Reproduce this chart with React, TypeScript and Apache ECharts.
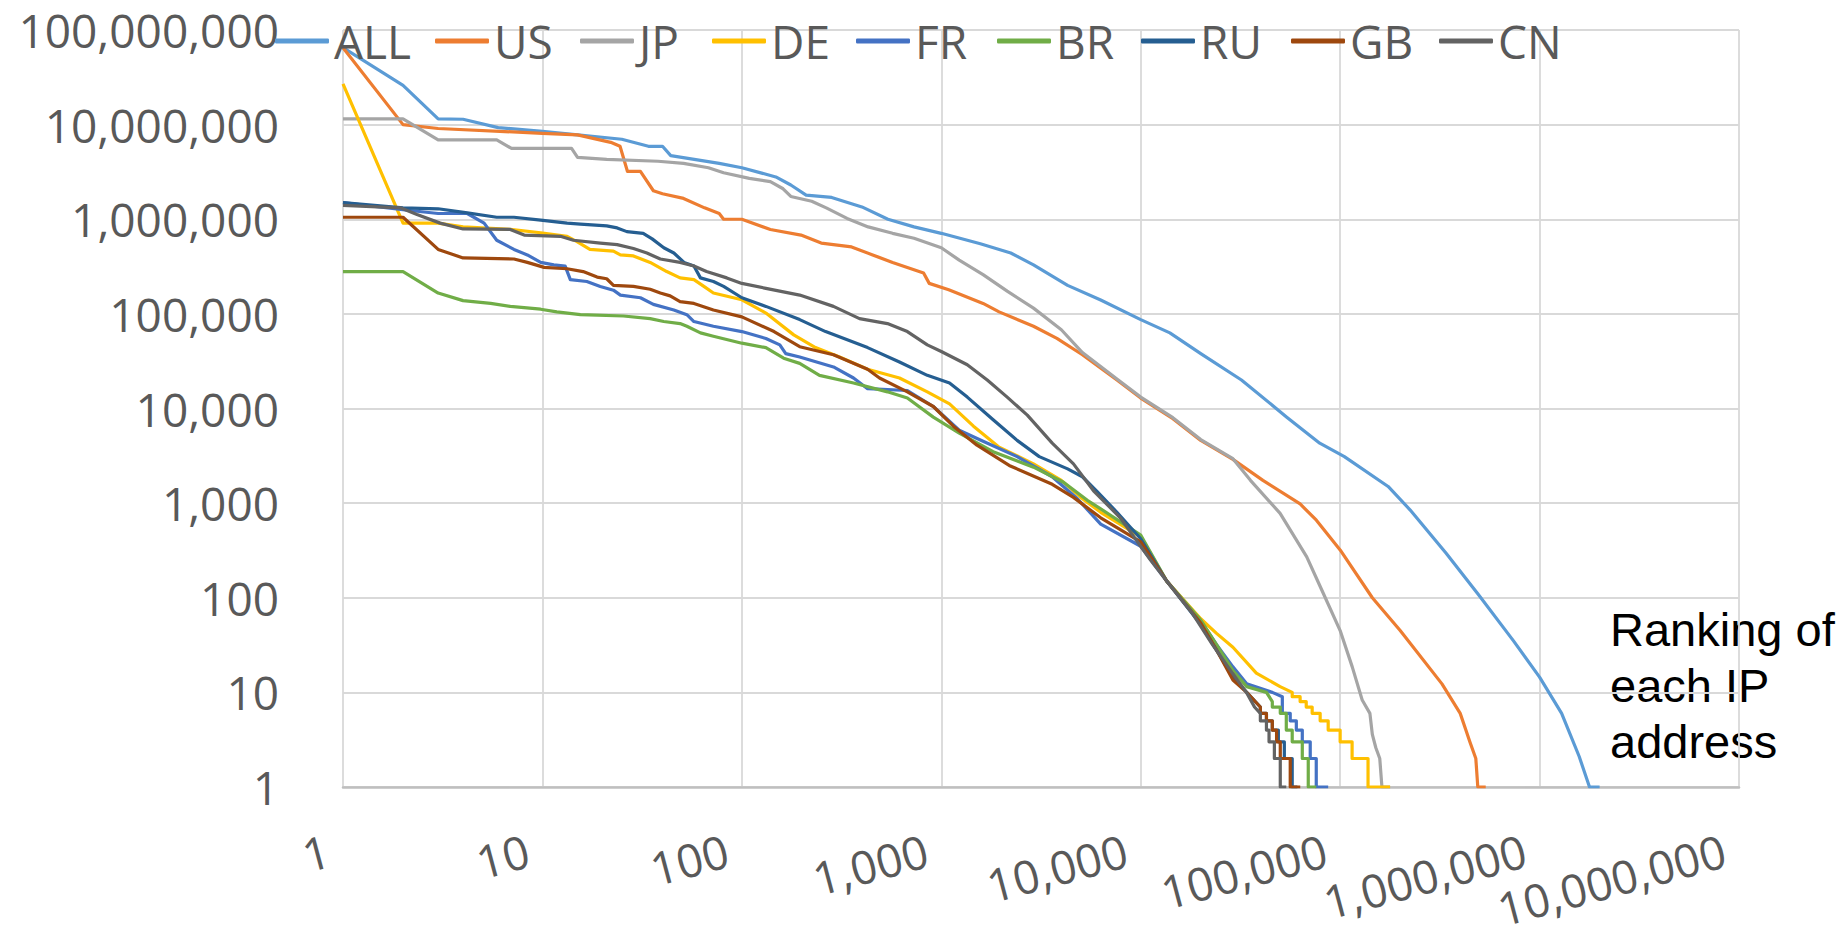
import React, { useEffect, useRef } from "react";
import * as echarts from "echarts";

const SERIES_NAMES = ["ALL", "US", "JP", "DE", "FR", "BR", "RU", "GB", "CN"];
const SERIES_COLORS = ["#5B9BD5", "#ED7D31", "#A5A5A5", "#FFC000", "#4472C4", "#70AD47", "#255E91", "#9E480E", "#636363"];
const LEGEND_LEFT = [275, 435, 580, 712, 856, 997, 1141, 1291, 1439];

const X_TICKS = [1, 10, 100, 1000, 10000, 100000, 1000000, 10000000];
const Y_TICKS = [1, 10, 100, 1000, 10000, 100000, 1000000, 10000000, 100000000];
const AXIS_TITLE = "Ranking of\neach IP\naddress";

const ALL: [number, number][] = [[1,65000000],[2,26000000],[3,11500000],[4,11400000],[6,9300000],[10,8500000],[15,7800000],[25,7000000],[34,5900000],[40,5900000],[44,4700000],[77,3900000],[100,3500000],[148,2800000],[176,2300000],[210,1800000],[282,1700000],[400,1350000],[540,1000000],[730,830000],[1000,710000],[1570,550000],[2230,440000],[2900,330000],[4300,200000],[6300,140000],[10000,87000],[14000,63000],[20000,38000],[32000,20000],[54000,8100],[79000,4300],[105000,3100],[174000,1500],[224000,850],[340000,295],[490000,110],[740000,35],[1000000,14.5],[1290000,6],[1580000,2.1],[1780000,1],[2000000,1]];

const US: [number, number][] = [[1,65000000],[2,10000000],[3,9100000],[10,8100000],[15,7800000],[22,6500000],[24.5,5900000],[26.7,3200000],[31,3200000],[36,2000000],[40,1860000],[51,1660000],[65,1320000],[77,1150000],[81,1000000],[100,1000000],[139,780000],[198,680000],[250,560000],[355,510000],[453,420000],[570,350000],[815,270000],[870,210000],[1090,180000],[1620,129000],[1950,105000],[2900,74000],[3800,55000],[5100,37000],[7600,20000],[10000,12900],[14500,7800],[20000,4600],[29000,2900],[41000,1740],[63000,980],[76000,660],[100000,320],[145000,100],[200000,45],[324000,12.3],[400000,6],[427000,4],[447000,3],[479000,2],[490000,1],[537000,1]];

const JP: [number, number][] = [[1,11500000],[2,11500000],[3,6900000],[5.9,6900000],[7,5600000],[14,5600000],[15,4500000],[21,4300000],[38,4100000],[51,3900000],[68,3500000],[81,3100000],[109,2700000],[139,2500000],[161,2100000],[176,1740000],[224,1550000],[265,1320000],[337,1020000],[430,830000],[570,710000],[730,630000],[1000,500000],[1230,370000],[1620,260000],[2140,174000],[2900,115000],[4000,68000],[5100,39000],[7600,20500],[10000,13200],[14500,8000],[20000,4700],[29000,2950],[35500,1740],[50000,780],[68000,270],[81000,120],[100000,45],[115000,18.6],[129000,8.3],[141000,6],[145000,3.6],[151000,2.6],[158000,2],[162000,1],[178000,1]];

const DE: [number, number][] = [[1,27000000],[2,910000],[3,910000],[4,830000],[6.9,780000],[9.8,720000],[13.3,660000],[14.9,580000],[17.3,480000],[22.7,460000],[24.6,420000],[28.6,410000],[34.7,350000],[42,280000],[49,240000],[57.5,230000],[64.5,195000],[72,166000],[100,141000],[132,102000],[182,60000],[234,44000],[309,35000],[427,26000],[617,21000],[851,15000],[1100,11200],[1450,6500],[1950,3900],[2900,2600],[4000,1740],[5000,1150],[6300,800],[10000,440],[13500,150],[20000,60],[24000,42],[29000,30],[38000,16],[50000,11.5],[57500,10],[57500,9],[63000,9],[63000,8],[67600,8],[67600,7],[72400,7],[72400,6],[79400,6],[79400,5],[87100,5],[87100,4],[100000,4],[100000,3],[114800,3],[114800,2],[138000,2],[138000,1],[178000,1]];

const FR: [number, number][] = [[1,1500000],[2,1260000],[3,1150000],[4.2,1150000],[5.1,910000],[5.9,600000],[7.2,480000],[8.4,420000],[9.8,350000],[11.4,330000],[13,320000],[13.8,230000],[16.7,220000],[19.5,195000],[22.7,178000],[24.6,158000],[31,148000],[36,126000],[45.6,110000],[53,98000],[57.5,83000],[72,74000],[100,65000],[132,55000],[155,47000],[166,38000],[195,35000],[288,27500],[363,21000],[427,16200],[676,15500],[912,10500],[1230,5900],[1620,4500],[2400,3100],[3600,1900],[4800,1120],[6300,600],[10000,350],[13500,150],[20000,57],[24000,32],[29000,18.6],[34000,12.3],[45700,10],[51300,9],[51300,6],[56200,6],[56200,5],[60300,5],[60300,4],[64600,4],[64600,3],[70800,3],[70800,2],[75900,2],[75900,1],[87100,1]];

const BR: [number, number][] = [[1,280000],[2,280000],[3,166000],[4,138000],[5.5,129000],[6.9,120000],[9.8,112000],[11.8,105000],[15.5,98000],[25.5,95000],[34.7,89000],[40.6,83000],[49,79000],[53,74000],[62,63000],[72,58000],[100,49000],[132,44000],[162,34000],[195,30000],[245,22400],[363,18600],[537,15000],[676,12900],[912,8100],[1230,5500],[1820,3500],[2900,2400],[4100,1660],[5400,1070],[6300,870],[10000,460],[13500,150],[20000,58],[24000,32],[29000,17],[34000,11.5],[42700,10],[45700,8],[45700,7],[50100,7],[50100,6],[53700,6],[53700,4],[57500,4],[57500,3],[64600,3],[64600,2],[69200,2],[69200,1],[75900,1]];

const RU: [number, number][] = [[1,1500000],[2,1320000],[3,1290000],[4.2,1170000],[5.9,1050000],[7.2,1050000],[9.8,980000],[13.3,910000],[15.5,890000],[21,850000],[23.7,810000],[26.5,740000],[32,710000],[35.5,620000],[40.6,500000],[45.6,440000],[51.3,350000],[57.5,320000],[62,240000],[72,220000],[81,195000],[100,148000],[132,120000],[195,87000],[263,65000],[427,44000],[617,31000],[851,22400],[1100,18600],[1350,13200],[1820,7600],[2400,4600],[3100,3100],[4300,2300],[5100,1900],[6000,1350],[7600,800],[10000,420],[13500,150],[20000,52],[24000,28],[29000,14.5],[34000,10],[39800,7],[39800,6],[42700,6],[42700,5],[45700,5],[45700,4],[49000,4],[49000,3],[52500,3],[52500,2],[57500,2],[57500,1],[61000,1]];

const GB: [number, number][] = [[1,1050000],[2,1050000],[3,480000],[4,390000],[7.2,380000],[8.4,350000],[10.2,310000],[13.3,300000],[16,280000],[18.8,245000],[21,235000],[22.7,200000],[28.6,195000],[34.7,182000],[39,166000],[43.7,155000],[49,135000],[57.5,129000],[72,110000],[100,93000],[145,65000],[195,45000],[288,37000],[427,26000],[490,21000],[676,15000],[912,10500],[1150,6500],[1510,4100],[2190,2500],[3600,1580],[4600,1150],[6300,700],[10000,390],[13500,150],[20000,54],[24000,28],[29000,13.5],[34000,10],[39800,7],[39800,6],[42700,6],[42700,5],[45700,5],[45700,4],[48000,4],[48000,3],[50100,3],[50100,2],[56200,2],[56200,1],[63100,1]];

const CN: [number, number][] = [[1,1400000],[1.94,1320000],[2.35,1120000],[3.07,910000],[4,790000],[6.9,780000],[8.1,680000],[12.3,660000],[14.3,600000],[19.5,560000],[23.7,540000],[28.6,490000],[33.4,440000],[39,380000],[49,350000],[57.5,320000],[66.5,280000],[84,240000],[100,210000],[132,186000],[195,158000],[288,120000],[389,89000],[537,79000],[676,65000],[851,47000],[1000,40000],[1350,29000],[1700,20000],[2140,13200],[2700,8500],[3600,4300],[4600,2600],[5800,1350],[7900,700],[11200,250],[13500,150],[18200,68],[22900,32],[28800,16],[33900,10],[37200,7],[39800,6],[39800,5],[42700,5],[42700,4],[44000,4],[44000,3],[46800,3],[46800,2],[50100,2],[50100,1],[53700,1]];

const SERIES_DATA = [ALL, US, JP, DE, FR, BR, RU, GB, CN];

const FONT = "'Open Sans', 'Noto Sans', sans-serif";
const fmt = (v: number) => Math.round(v).toLocaleString("en-US");

export default function App() {
  const ref = useRef<HTMLDivElement>(null);
  useEffect(() => {
    if (!ref.current) return;
    const chart = echarts.init(ref.current, null, { renderer: "svg" });
    const option: any = {
      animation: false,
      backgroundColor: "#ffffff",
      grid: { left: 343, right: 108, top: 30, bottom: 146, containLabel: false, outerBoundsMode: "none" },
      legend: SERIES_NAMES.map((name, i) => ({
        data: [name],
        left: LEGEND_LEFT[i],
        top: 18,
        padding: 0,
        icon: "roundRect",
        itemWidth: 54,
        itemHeight: 5,
        itemGap: 0,
        selectedMode: false,
        textStyle: { fontFamily: FONT, fontSize: 46, color: "#595959", lineHeight: 46, padding: [0, 0, 0, 0] },
      })),
      xAxis: {
        type: "log",
        logBase: 10,
        min: X_TICKS[0],
        max: X_TICKS[X_TICKS.length - 1],
        splitNumber: X_TICKS.length - 1,
        axisLine: { show: true, lineStyle: { color: "#BFBFBF", width: 2.5 } },
        axisTick: { show: false },
        splitLine: { show: true, lineStyle: { color: "#D9D9D9", width: 1.8 } },
        axisLabel: {
          rotate: 15,
          margin: 58,
          padding: [0, 15, 0, 0],
          fontFamily: FONT,
          fontSize: 46,
          lineHeight: 46,
          color: "#595959",
          formatter: (v: number) => fmt(v),
        },
      },
      yAxis: {
        type: "log",
        logBase: 10,
        min: Y_TICKS[0],
        max: Y_TICKS[Y_TICKS.length - 1],
        splitNumber: Y_TICKS.length - 1,
        axisLine: { show: false },
        axisTick: { show: false },
        splitLine: { show: true, lineStyle: { color: "#D9D9D9", width: 1.8 } },
        axisLabel: {
          margin: 64,
          fontFamily: FONT,
          fontSize: 46,
          color: "#595959",
          formatter: (v: number) => fmt(v),
        },
      },
      graphic: [
        {
          type: "text",
          left: 1610,
          top: 601,
          style: {
            text: AXIS_TITLE,
            fontFamily: "'Liberation Sans', Arial, sans-serif",
            fontSize: 47,
            lineHeight: 56,
            fill: "#000000",
          },
        },
      ],
      series: SERIES_NAMES.map((name, i) => ({
        name,
        type: "line",
        data: SERIES_DATA[i],
        symbol: "none",
        color: SERIES_COLORS[i],
        lineStyle: { width: 3.2, color: SERIES_COLORS[i], join: "round" },
        clip: true,
      })),
    };
    chart.setOption(option);
    return () => chart.dispose();
  }, []);
  return (
    <div
      ref={ref}
      style={{ position: "absolute", left: 0, top: 0, width: 1847, height: 933 }}
    />
  );
}
